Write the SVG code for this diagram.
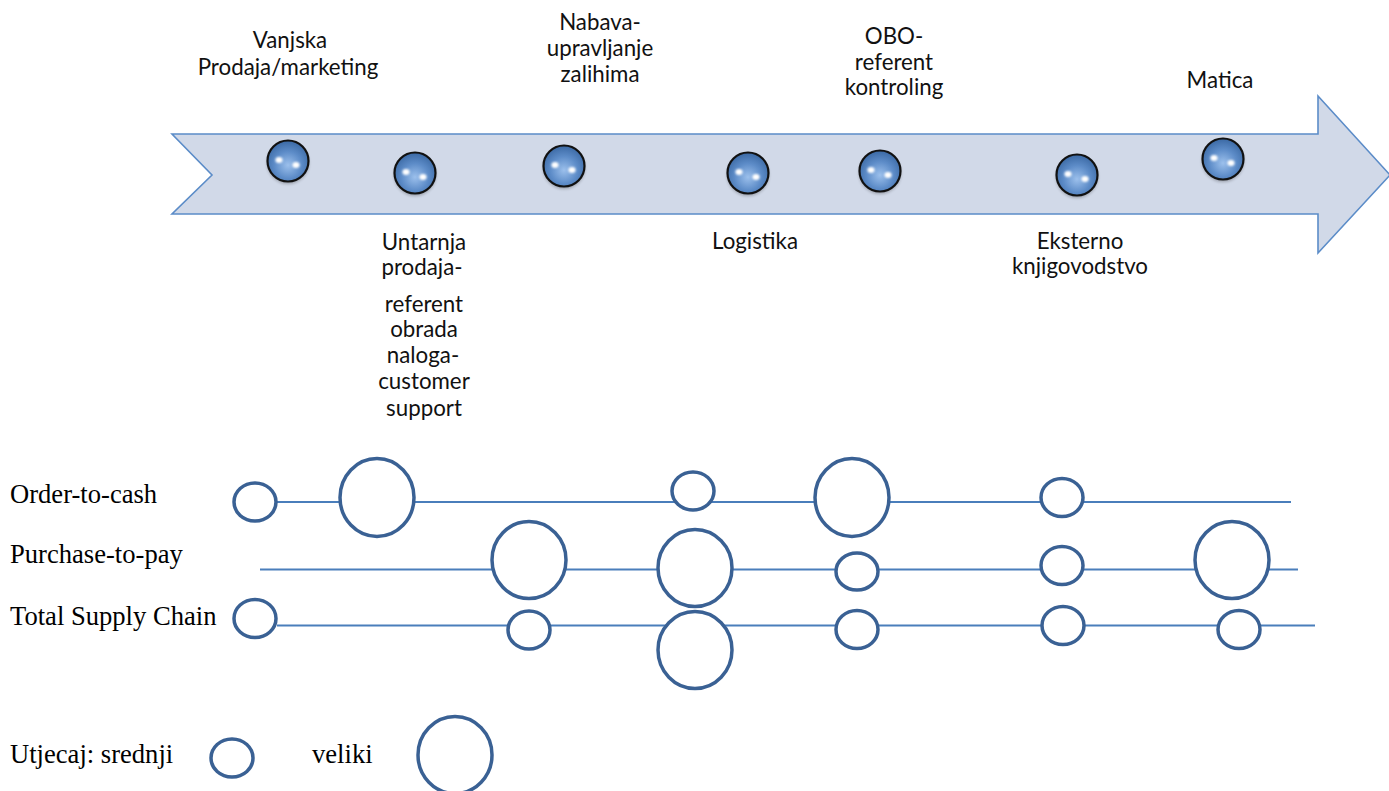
<svg xmlns="http://www.w3.org/2000/svg" width="1389" height="791" viewBox="0 0 1389 791">
<defs>
<radialGradient id="beadGrad" cx="0.5" cy="0.6" r="0.6">
<stop offset="0" stop-color="#9cc0ec"/>
<stop offset="0.55" stop-color="#5d8cc8"/>
<stop offset="1" stop-color="#3a68a3"/>
</radialGradient>
<filter id="soft" x="-80%" y="-80%" width="260%" height="260%"><feGaussianBlur stdDeviation="0.9"/></filter>
<filter id="shadow" x="-30%" y="-30%" width="160%" height="160%"><feGaussianBlur stdDeviation="1.5"/></filter>
<g id="bead">
<circle cx="0" cy="2" r="21" fill="#000" opacity="0.25" filter="url(#shadow)"/>
<circle cx="0" cy="0" r="20.5" fill="url(#beadGrad)" stroke="#111" stroke-width="2.2"/>
<ellipse cx="-9" cy="-1" rx="3.6" ry="3" fill="#fff" filter="url(#soft)"/>
<ellipse cx="8" cy="4" rx="3.6" ry="3" fill="#fff" filter="url(#soft)"/>
</g>
</defs>
<style>
.lbl{font-family:Lato,"Liberation Sans",sans-serif;font-size:22.3px;fill:#111;text-anchor:middle}
.tl{font-family:"Liberation Serif","Times New Roman",serif;font-size:26.6px;fill:#000}
.ln{stroke:#4a7ebb;stroke-width:2;fill:none}
.c{fill:#fff;stroke:#3a6194;stroke-width:3.5}
</style>
<rect width="1389" height="791" fill="#fff"/>
<g id="timeline-arrow">
<polygon points="172,134 1318,134 1318,96 1390,175 1318,253 1318,214 172,214 212,175" fill="#d1d9e8" stroke="#5b8cc8" stroke-width="1.6"/>
</g>
<g id="node-vanjska">
<use href="#bead" x="288" y="161"/>
<text class="lbl" x="290" y="48">Vanjska</text>
<text class="lbl" x="288" y="75">Prodaja/marketing</text>
</g>
<g id="node-untarnja">
<use href="#bead" x="415" y="173"/>
<text class="lbl" x="424" y="250">Untarnja</text>
<text class="lbl" x="422" y="275">prodaja-</text>
<text class="lbl" x="424" y="312">referent</text>
<text class="lbl" x="424" y="337">obrada</text>
<text class="lbl" x="423" y="363">naloga-</text>
<text class="lbl" x="424" y="389">customer</text>
<text class="lbl" x="424" y="416">support</text>
</g>
<g id="node-nabava">
<use href="#bead" x="564" y="166"/>
<text class="lbl" x="600" y="30">Nabava-</text>
<text class="lbl" x="600" y="56">upravljanje</text>
<text class="lbl" x="600" y="82">zalihima</text>
</g>
<g id="node-logistika">
<use href="#bead" x="748" y="173"/>
<text class="lbl" x="755" y="249">Logistika</text>
</g>
<g id="node-obo">
<use href="#bead" x="880" y="171"/>
<text class="lbl" x="894" y="44">OBO-</text>
<text class="lbl" x="894" y="70">referent</text>
<text class="lbl" x="894" y="95">kontroling</text>
</g>
<g id="node-eksterno">
<use href="#bead" x="1077" y="175"/>
<text class="lbl" x="1080" y="249">Eksterno</text>
<text class="lbl" x="1080" y="274">knjigovodstvo</text>
</g>
<g id="node-matica">
<use href="#bead" x="1223" y="159"/>
<text class="lbl" x="1220" y="88">Matica</text>
</g>
<g id="connectors">
<line class="ln" x1="277" y1="502" x2="1291" y2="502"/>
<line class="ln" x1="260" y1="569.5" x2="1298" y2="569.5"/>
<line class="ln" x1="277" y1="625.5" x2="1315" y2="625.5"/>
</g>
<g id="row-order-to-cash">
<text class="tl" x="10" y="503">Order-to-cash</text>
<ellipse class="c" cx="255" cy="502" rx="21" ry="19"/>
<ellipse class="c" cx="377" cy="497.5" rx="37" ry="39"/>
<ellipse class="c" cx="693" cy="491" rx="21" ry="19"/>
<ellipse class="c" cx="852" cy="497.5" rx="37" ry="39"/>
<ellipse class="c" cx="1062" cy="497.5" rx="21" ry="19"/>
</g>
<g id="row-purchase-to-pay">
<text class="tl" x="10" y="563">Purchase-to-pay</text>
<ellipse class="c" cx="529" cy="560" rx="37" ry="38.5"/>
<ellipse class="c" cx="695" cy="568" rx="37" ry="38.5"/>
<ellipse class="c" cx="857" cy="571.5" rx="21" ry="18.5"/>
<ellipse class="c" cx="1062" cy="565.5" rx="21" ry="19"/>
<ellipse class="c" cx="1232" cy="560" rx="37" ry="38.5"/>
</g>
<g id="row-total-supply-chain">
<text class="tl" x="10" y="625">Total Supply Chain</text>
<ellipse class="c" cx="255" cy="618.5" rx="21" ry="19"/>
<ellipse class="c" cx="529" cy="630" rx="21" ry="19"/>
<ellipse class="c" cx="695" cy="650" rx="37" ry="38.5"/>
<ellipse class="c" cx="857" cy="629.5" rx="21" ry="19"/>
<ellipse class="c" cx="1063" cy="625.5" rx="21" ry="19"/>
<ellipse class="c" cx="1239" cy="629.5" rx="21" ry="19"/>
</g>
<g id="legend">
<text class="tl" x="10" y="763">Utjecaj: srednji</text>
<ellipse class="c" cx="232" cy="758" rx="21" ry="19"/>
<text class="tl" x="312" y="763">veliki</text>
<ellipse class="c" cx="455" cy="755" rx="37" ry="38.5"/>
</g>
</svg>
